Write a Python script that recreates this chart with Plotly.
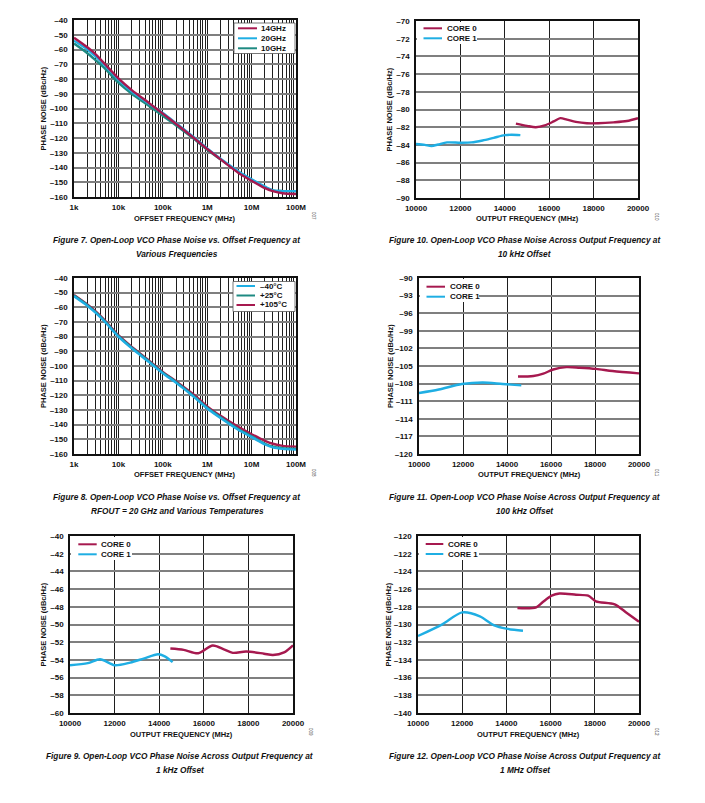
import plotly.graph_objects as go

# page body has an 8px default margin; figure is sized so it fits the 705x803 window
W, H = 689, 787
OFF = 8

# ---------------- data ----------------
offset_hz = [1e3, 2e3, 3e3, 5e3, 1e4, 2e4, 5e4, 1e5, 2e5, 5e5, 1e6, 2e6, 5e6, 1e7, 2e7, 3e7, 5e7, 1e8]
pn_14ghz = [-52, -58.5, -63, -70, -79.5, -87.5, -96.5, -103.5, -110.5, -120, -127.5, -134.5, -143.5, -149, -154, -156, -157.5, -158]
pn_20ghz = [-54, -60, -64.5, -71, -80.5, -88.5, -97, -103, -110, -119.5, -127, -134, -142.5, -148, -153, -155.5, -156, -156]
pn_10ghz = [-56, -62.5, -67, -73, -82.5, -90, -98.5, -105, -111.5, -120.5, -128, -134.5, -143, -148.5, -153.5, -155.5, -156, -156]

pn_m40c = [-52.5, -59, -63.5, -70, -80, -88, -97.5, -105, -111.5, -121, -129, -135.5, -143.5, -148.5, -153.5, -155.5, -156.5, -157]
pn_p25c = [-52, -58.5, -63, -69.5, -79.5, -87.5, -97, -104.5, -111, -120.5, -128.5, -135, -143, -148, -153, -155, -156, -156.5]
pn_p105c = [-51.5, -58, -62.5, -69, -79, -87, -96.5, -104, -110.5, -119.5, -127.5, -134, -141.5, -146.5, -151, -153, -154.5, -155]

# 10 kHz offset
c0_f_10k = [14500, 15000, 15400, 15800, 16200, 16500, 16800, 17200, 17700, 18200, 18900, 19500, 20000]
c0_pn_10k = [-81.6, -81.85, -82.0, -81.8, -81.35, -80.98, -81.15, -81.4, -81.55, -81.55, -81.45, -81.3, -80.98]
c1_f_10k = [10000, 10400, 10700, 11000, 11400, 12000, 12500, 13000, 13500, 14000, 14300, 14700]
c1_pn_10k = [-83.9, -84.0, -84.12, -83.95, -83.72, -83.75, -83.72, -83.5, -83.2, -82.9, -82.85, -82.9]

# 100 kHz offset
c0_f_100k = [14500, 15200, 15650, 16100, 16700, 17300, 18050, 18800, 20000]
c0_pn_100k = [-106.8, -106.7, -106.3, -105.6, -105.2, -105.3, -105.5, -105.85, -106.25]
c1_f_100k = [10000, 10900, 11950, 12900, 13800, 14650]
c1_pn_100k = [-109.6, -109.0, -108.07, -107.8, -108.07, -108.3]

# 1 kHz offset
c0_f_1k = [14500, 15100, 15750, 16400, 16900, 17300, 17900, 18700, 19100, 19600, 20000]
c0_pn_1k = [-52.72, -52.87, -53.25, -52.38, -52.8, -53.2, -53.05, -53.3, -53.45, -53.15, -52.35]
c1_f_1k = [10000, 10800, 11350, 12000, 12700, 13300, 13950, 14250, 14600]
c1_pn_1k = [-54.6, -54.37, -53.92, -54.6, -54.3, -53.85, -53.36, -53.6, -54.25]

# 1 MHz offset
c0_f_1m = [14500, 15350, 15650, 16050, 16400, 17150, 17700, 18050, 18900, 19450, 20000]
c0_pn_1m = [-128.14, -128.06, -127.46, -126.74, -126.5, -126.63, -126.75, -127.38, -127.72, -128.7, -129.68]
c1_f_1m = [10000, 11100, 12000, 12800, 13450, 14000, 14750]
c1_pn_1m = [-131.3, -129.98, -128.63, -129.08, -130.1, -130.47, -130.7]

log_tickvals = [1e3, 1e4, 1e5, 1e6, 1e7, 1e8]
log_ticktext = ["1k", "10k", "100k", "1M", "10M", "100M"]

# ---------------- style ----------------
RED = "#A6194F"
BLUE = "#1FAEE3"
TEAL = "#1E8A82"
FONT = "Liberation Sans, Arial, sans-serif"
HGRID = "#7F7F7F"
VGRID = "#1E1E1E"


def px(x):
    return (x - OFF) / W


def py(y):
    return 1 - (y - OFF) / H


panels = [
    (74, 296, 20, 197),
    (416, 638, 21, 198),
    (74, 296, 278, 454),
    (419, 639, 278, 454),
    (70, 293, 536, 713),
    (418, 639, 536, 713),
]

fig = go.Figure()


def add(i, x, y, color, name):
    fig.add_trace(go.Scatter(x=x, y=y, mode="lines", name=name, showlegend=False,
                             line=dict(color=color, width=2.4, shape="spline", smoothing=0.8),
                             xaxis="x" if i == 1 else f"x{i}", yaxis="y" if i == 1 else f"y{i}",
                             hoverinfo="skip"))


add(1, offset_hz, pn_10ghz, TEAL, "10GHz")
add(1, offset_hz, pn_20ghz, BLUE, "20GHz")
add(1, offset_hz, pn_14ghz, RED, "14GHz")
add(3, offset_hz, pn_p105c, RED, "+105°C")
add(3, offset_hz, pn_p25c, TEAL, "+25°C")
add(3, offset_hz, pn_m40c, BLUE, "–40°C")
add(2, c0_f_10k, c0_pn_10k, RED, "CORE 0")
add(2, c1_f_10k, c1_pn_10k, BLUE, "CORE 1")
add(4, c0_f_100k, c0_pn_100k, RED, "CORE 0")
add(4, c1_f_100k, c1_pn_100k, BLUE, "CORE 1")
add(5, c0_f_1k, c0_pn_1k, RED, "CORE 0")
add(5, c1_f_1k, c1_pn_1k, BLUE, "CORE 1")
add(6, c0_f_1m, c0_pn_1m, RED, "CORE 0")
add(6, c1_f_1m, c1_pn_1m, BLUE, "CORE 1")

tickfont = dict(family=FONT, size=8, color="#111")


def yticks(lo, hi, step):
    vals = []
    v = hi
    while v >= lo - 1e-9:
        vals.append(v)
        v -= step
    return vals, [("<b>–" + str(abs(int(t))) + "</b>") if t < 0 else f"<b>{int(t)}</b>" for t in vals]


y_specs = {
    1: (-160, -40, 10),
    2: (-90, -70, 2),
    3: (-160, -40, 10),
    4: (-120, -90, 3),
    5: (-60, -40, 2),
    6: (-140, -120, 2),
}

layout = dict(width=W, height=H, margin=dict(l=0, r=0, t=0, b=0, autoexpand=False),
              paper_bgcolor="white", plot_bgcolor="white", showlegend=False, template="none")

for i, (x0, x1, y0, y1) in enumerate(panels, start=1):
    xk = "xaxis" if i == 1 else f"xaxis{i}"
    yk = "yaxis" if i == 1 else f"yaxis{i}"
    ya = "y" if i == 1 else f"y{i}"
    xa = "x" if i == 1 else f"x{i}"
    lo, hi, st = y_specs[i]
    tv, tt = yticks(lo, hi, st)
    if i in (1, 3):
        xax = dict(type="log", range=[3, 8], tickvals=log_tickvals,
                   ticktext=[f"<b>{t}</b>" for t in log_ticktext],
                   showgrid=True, gridcolor=VGRID, gridwidth=1,
                   minor=dict(dtick="D1", showgrid=True, gridcolor=VGRID, gridwidth=1, ticks=""))
    else:
        xax = dict(type="linear", range=[10000, 20000], tickvals=list(range(10000, 20001, 2000)),
                   ticktext=[f"<b>{v}</b>" for v in range(10000, 20001, 2000)],
                   showgrid=True, gridcolor=VGRID, gridwidth=1.2)
    xax.update(domain=[px(x0), px(x1)], anchor=ya, showline=True, mirror=True, linecolor="#111",
               linewidth=1.5, ticks="", tickfont=tickfont, zeroline=False, fixedrange=True,
               automargin=False, ticklabelstandoff=2)
    yax = dict(domain=[py(y1), py(y0)], anchor=xa, range=[lo, hi], tickvals=tv, ticktext=tt,
               showgrid=True, gridcolor=HGRID, gridwidth=2, showline=True, mirror=True,
               linecolor="#111", linewidth=1.5, ticks="", tickfont=tickfont, zeroline=False,
               fixedrange=True, automargin=False, ticklabelstandoff=3)
    layout[xk] = xax
    layout[yk] = yax

fig.update_layout(**layout)

shapes = []
annotations = []

xt_titles = ["OFFSET FREQUENCY (MHz)", "OUTPUT FREQUENCY (MHz)", "OFFSET FREQUENCY (MHz)",
             "OUTPUT FREQUENCY (MHz)", "OUTPUT FREQUENCY (MHz)", "OUTPUT FREQUENCY (MHz)"]
codes = ["007", "010", "008", "011", "009", "012"]
ytitle_x = [43, 389, 43, 390, 43, 388]
for i, (x0, x1, y0, y1) in enumerate(panels):
    annotations.append(dict(x=px((x0 + x1) / 2), y=py(y1 + 21), xref="paper", yref="paper",
                            text=f"<b>{xt_titles[i]}</b>", showarrow=False,
                            font=dict(family=FONT, size=7.5, color="#111"),
                            xanchor="center", yanchor="middle"))
    annotations.append(dict(x=px(ytitle_x[i]), y=py((y0 + y1) / 2), xref="paper", yref="paper",
                            text="<b>PHASE NOISE (dBc/Hz)</b>", showarrow=False, textangle=-90,
                            font=dict(family=FONT, size=7.5, color="#111"),
                            xanchor="center", yanchor="middle"))
    annotations.append(dict(x=px(x1 + 18), y=py(y1 + 19), xref="paper", yref="paper",
                            text=codes[i], showarrow=False, textangle=90,
                            font=dict(family=FONT, size=4.5, color="#444"),
                            xanchor="center", yanchor="middle"))


def legend(entries, lx0, lx1, tx, rows, box, border):
    bx0, bx1, by0, by1 = box
    shapes.append(dict(type="rect", xref="paper", yref="paper", x0=px(bx0), x1=px(bx1),
                       y0=py(by1), y1=py(by0), fillcolor="white",
                       line=dict(color="#555" if border else "white", width=0.8 if border else 0),
                       layer="above"))
    for (name, color), ry in zip(entries, rows):
        shapes.append(dict(type="line", xref="paper", yref="paper", x0=px(lx0), x1=px(lx1),
                           y0=py(ry), y1=py(ry), line=dict(color=color, width=2), layer="above"))
        annotations.append(dict(x=px(tx), y=py(ry), xref="paper", yref="paper",
                                text=f"<b>{name}</b>", showarrow=False,
                                font=dict(family=FONT, size=8, color="#111"),
                                xanchor="left", yanchor="middle"))


core = [("CORE 0", RED), ("CORE 1", BLUE)]
legend([("14GHz", RED), ("20GHz", BLUE), ("10GHz", TEAL)], 238, 257, 259,
       [28.3, 38.3, 48.3], (234, 295, 23, 53.5), True)
legend([("–40°C", BLUE), ("+25°C", TEAL), ("+105°C", RED)], 236.5, 255, 257.5,
       [286, 295.5, 305], (233, 295, 281.5, 311.5), True)
legend(core, 423.5, 442, 445, [28.3, 38.3], (417, 477, 22, 44), False)
legend(core, 426.5, 445, 447.5, [286.7, 296.7], (420, 479, 279, 302), False)
legend(core, 78.3, 96.7, 99, [544.3, 554.3], (71, 132, 537, 560), False)
legend(core, 425.7, 443.3, 446, [544, 554], (419, 479, 537, 560), False)

captions = [
    (177, 240, "Figure 7. Open-Loop VCO Phase Noise vs. Offset Frequency at", "Various Frequencies"),
    (525, 240, "Figure 10. Open-Loop VCO Phase Noise Across Output Frequency at", "10 kHz Offset"),
    (177, 497, "Figure 8. Open-Loop VCO Phase Noise vs. Offset Frequency at", "RFOUT = 20 GHz and Various Temperatures"),
    (525, 497, "Figure 11. Open-Loop VCO Phase Noise Across Output Frequency at", "100 kHz Offset"),
    (180, 756, "Figure 9. Open-Loop VCO Phase Noise Across Output Frequency at", "1 kHz Offset"),
    (525, 756, "Figure 12. Open-Loop VCO Phase Noise Across Output Frequency at", "1 MHz Offset"),
]
for cx, cy, l1, l2 in captions:
    for k, line in enumerate((l1, l2)):
        annotations.append(dict(x=px(cx), y=py(cy + 13.5 * k), xref="paper", yref="paper",
                                text=f"<b><i>{line}</i></b>", showarrow=False,
                                font=dict(family=FONT, size=8.3, color="#111"),
                                xanchor="center", yanchor="middle"))

fig.update_layout(shapes=shapes, annotations=annotations)
fig.write_html("out.html")
